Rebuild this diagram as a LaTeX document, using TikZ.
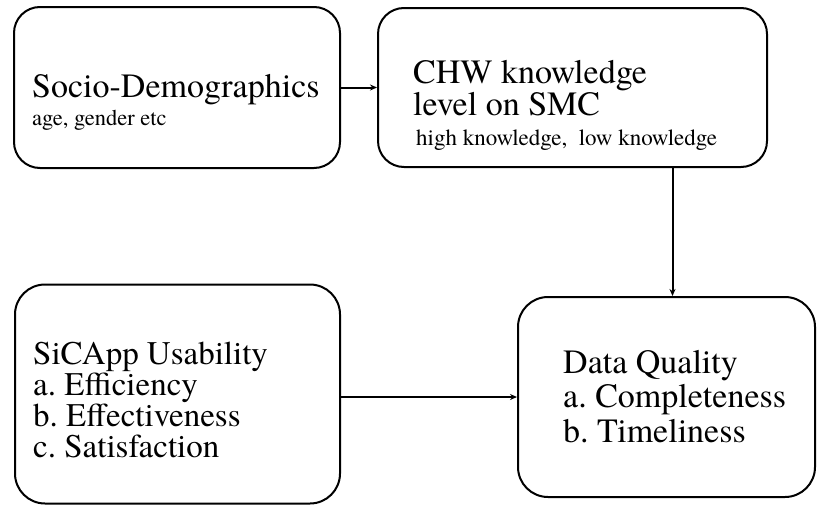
\documentclass[tikz,border=0pt]{standalone}
\usepackage{fontspec}
\setmainfont{TeX Gyre Termes}
\usetikzlibrary{arrows.meta}
\tikzset{
  box/.style={draw, line width=2pt, rounded corners=26pt, inner sep=0pt, rectangle},
  txt/.style={anchor=base west, inner sep=0pt},
  conn/.style={draw, line width=2pt, -{Stealth[length=7pt,width=6pt]}},
}
\begin{document}
\begin{tikzpicture}[x=1pt,y=-1pt]
\useasboundingbox (0,0) rectangle (818,506);
\node[box, minimum width=326pt, minimum height=161pt] (b1) at (177,87.5) {};
\node[box, minimum width=389pt, minimum height=159pt] (b2) at (572.5,87.5) {};
\node[box, minimum width=325pt, minimum height=219pt, rounded corners=30pt] (b3) at (177.5,394) {};
\node[box, minimum width=297pt, minimum height=200pt, rounded corners=30pt] (b4) at (666.5,397) {};

\node[txt] (t1) at (32,97) {\parbox[t]{300pt}{\fontsize{34}{28}\selectfont Socio-Demographics\par\fontsize{22.5}{28}\selectfont age, gender etc}};
\node[txt] (t2) at (413,83) {\parbox[t]{340pt}{\fontsize{34}{32}\selectfont CHW knowledge\\level on SMC\par\fontsize{23}{30}\selectfont\hspace*{3pt}high knowledge,\ \ low knowledge}};
\node[txt] (t3) at (33,364) {\parbox[t]{300pt}{\fontsize{33}{31.3}\selectfont SiCApp Usability\\a.\ Efficiency\\b.\ Effectiveness\\c.\ Satisfaction}};
\node[txt] (t4) at (563,373) {\parbox[t]{250pt}{\fontsize{34}{34.5}\selectfont Data Quality\\a.\ Completeness\\b.\ Timeliness}};

\draw[conn] (b1.east) -- (b2.west);
\draw[conn] ([xshift=6pt]b4.north |- b2.south) -- ([xshift=6pt]b4.north);
\draw[conn] (b3.east |- b4.west) -- (b4.west);
\end{tikzpicture}
\end{document}
